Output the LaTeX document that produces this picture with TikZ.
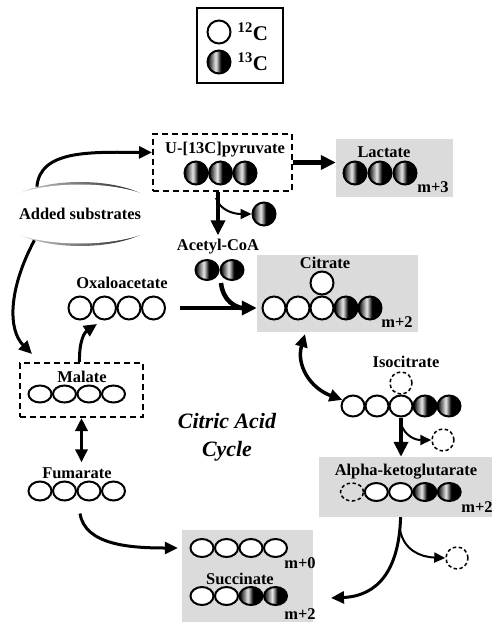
\documentclass[tikz,border=0pt]{standalone}
\usepackage{fontspec}
\setmainfont{Liberation Serif}
\usetikzlibrary{arrows.meta,positioning,shapes.geometric}
\pgfdeclarehorizontalshading{carbonshade}{100bp}{color(0bp)=(black); color(25bp)=(black); color(30bp)=(black!75); color(43bp)=(black!8); color(50bp)=(black!65); color(54bp)=(black); color(100bp)=(black)}
\tikzset{
	carbon/.style={circle,draw,line width=2bp,minimum size=23bp,inner sep=0pt},
	wc/.style={carbon,fill=white},
	bc/.style={carbon,shade,shading=carbonshade},
	dc/.style={carbon,line width=1.5bp,dash pattern=on 3.5bp off 2.5bp,minimum size=22bp},
	oval/.style={ellipse,minimum width=23bp,minimum height=17bp},
	lbl/.style={font=\fontsize{16.5}{18}\selectfont\bfseries,inner sep=0pt},
	keylbl/.style={font=\fontsize{21}{24}\selectfont\bfseries,inner sep=0pt},
	graybox/.style={fill=black!14,inner sep=0pt},
	dashbox/.style={draw,line width=2bp,dash pattern=on 6bp off 4bp,inner sep=0pt},
	keybox/.style={draw,line width=2bp,inner sep=0pt},
	bigarrow/.style={line width=4.5bp,-{Triangle[length=15bp,width=14bp]}},
	curvearrow/.style={line width=3bp,-{Triangle[length=13bp,width=12bp]}},
	bothways/.style={line width=3.5bp,{Triangle[length=13bp,width=12bp]}-{Triangle[length=13bp,width=12bp]}},
	thinarrow/.style={line width=2bp,-{Triangle[length=11bp,width=10bp]}}
}
\begin{document}
\begin{tikzpicture}[x=1bp,y=-1bp]
	\useasboundingbox[fill=white](0,0)rectangle(496,623);
	% legend
	\node[keybox,minimum width=86bp,minimum height=75bp](keybox)at(240,45.5){};
	\node[wc](key12)at(219,32){};
	\node[bc](key13)at(219,62){};
	\node[keylbl,right=6bp of key12](key12lbl){\textsuperscript{12}C};
	\node[keylbl,right=6bp of key13](key13lbl){\textsuperscript{13}C};
	% boxes
	\node[dashbox,minimum width=139bp,minimum height=57bp](pyrbox)at(222.5,162.5){};
	\node[graybox,minimum width=117bp,minimum height=58bp](lacbox)at(394.5,168){};
	\node[graybox,minimum width=161bp,minimum height=77bp](citbox)at(337.5,293.5){};
	\node[dashbox,minimum width=123bp,minimum height=54bp](malbox)at(81.5,390){};
	\node[graybox,minimum width=173bp,minimum height=60bp](akgbox)at(405.5,487){};
	\node[graybox,minimum width=131bp,minimum height=92bp](sucbox)at(247.5,576){};
	% added substrates
	\node[ellipse,minimum width=159bp,minimum height=64bp,left color=black!6,right color=black](added)at(80,214){};
	\node[ellipse,fill=white,minimum width=154bp,minimum height=59bp,lbl](addedlbl)at(added){Added substrates};
	% labels
	\node[lbl](pyrlbl)at(225,150){U-[13C]pyruvate};
	\node[lbl](laclbl)at(384,152){Lactate};
	\node[lbl](lacm)at(433,187){m+3};
	\node[lbl](acoalbl)at(218,247){Acetyl-CoA};
	\node[lbl](oaalbl)at(122,283){Oxaloacetate};
	\node[lbl](citlbl)at(325,263){Citrate};
	\node[lbl](citm)at(397,322){m+2};
	\node[lbl](isolbl)at(406,362){Isocitrate};
	\node[lbl](mallbl)at(82,377){Malate};
	\node[lbl](fumlbl)at(77,473){Fumarate};
	\node[lbl](akglbl)at(406,472){Alpha-ketoglutarate};
	\node[lbl](akgm)at(477,507){m+2};
	\node[lbl](sucm0)at(300,563){m+0};
	\node[lbl](suclbl)at(240,579){Succinate};
	\node[lbl](sucm2)at(300,614){m+2};
	\node[font=\fontsize{22}{28}\selectfont\bfseries\itshape,align=center](cycle)at(227,437){Citric Acid\\Cycle};
	% carbon chains
	\foreach \i in {1,...,3} {
		\node[bc](pyr\i)at({196+24.5*(\i-1)},173){};
		\node[bc](lac\i)at({355+25*(\i-1)},173){};
	}
	\foreach \i in {1,2} {
		\node[bc,oval,minimum height=20bp](acoa\i)at({207+25*(\i-1)},270){};
	}
	\node[bc](co2a)at(264,214){};
	\foreach \i in {1,...,4} {
		\node[wc](oaa\i)at({80+24.5*(\i-1)},308){};
		\node[wc,oval](mal\i)at({40+24.5*(\i-1)},394){};
		\node[wc,oval,minimum height=19bp](fum\i)at({40+24.5*(\i-1)},491){};
		\node[wc,oval,minimum height=18bp](suca\i)at({202+24.5*(\i-1)},548){};
	}
	\foreach \i/\s in {1/wc,2/wc,3/bc,4/bc} {
		\node[\s,oval,minimum height=18bp](sucb\i)at({202+24.5*(\i-1)},596){};
	}
	\node[wc](cittop)at(322,283){};
	\foreach \i/\s in {1/wc,2/wc,3/wc,4/bc,5/bc} {
		\node[\s](cit\i)at({274+24*(\i-1)},308){};
		\node[\s,oval,minimum height=21bp](iso\i)at({353+24*(\i-1)},406){};
	}
	\node[dc](isotop)at(401,383){};
	\node[dc](co2b)at(443,440){};
	\foreach \i/\s in {1/dc,2/wc,3/wc,4/bc,5/bc} {
		\node[\s,oval,minimum height=18bp](akg\i)at({352+24.3*(\i-1)},492){};
	}
	\node[dc](co2c)at(457,558){};
	% free ends
	\coordinate(pyrsplit)at(216,198);
	\coordinate(acoaout)at(221,283);
	\coordinate(merge)at(250,309);
	\coordinate(oaain)at(97,324);
	\coordinate(citout)at(305,334);
	\coordinate(isosplit)at(401,424);
	\coordinate(akgsplit)at(400,530);
	\coordinate(sucin)at(331,598);
	% connectors
	\draw[bigarrow](pyrbox.east)--(lacbox.west|-pyrbox.east);
	\draw[bigarrow](pyrbox.south-|acoalbl)--([yshift=4bp]acoalbl.north);
	\draw[thinarrow](pyrsplit)..controls(220,210)and(233,214)..(co2a.west);
	\draw[bigarrow,shorten <=14bp](oaa4.east)--(citbox.west|-oaa4);
	\draw[line width=4.5bp](acoaout)..controls(223,300)and(234,309)..(merge);
	\draw[curvearrow]([xshift=-1bp]added.147)..controls(40,150)and(90,152)..([yshift=10bp]pyrbox.west);
	\draw[curvearrow](added.210)..controls(8,290)and(8,330)..([xshift=13bp,yshift=8bp]malbox.north west);
	\draw[curvearrow]([xshift=-2bp]malbox.north)..controls(79,340)and(85,332)..(oaain);
	\draw[bothways,shorten >=5bp](malbox.south)--(malbox.south|-fumlbl.north);
	\draw[curvearrow]([xshift=-9bp,yshift=-12bp]fum3.south)..controls(85,545)and(130,548)..([xshift=-4bp]sucbox.west|-suca1);
	\draw[bothways](citout)..controls(296,365)and(310,388)..(iso1.150);
	\draw[bigarrow](iso3.south)--(akgbox.north-|iso3);
	\draw[thinarrow](isosplit)..controls(405,436)and(415,440)..(co2b.west);
	\draw[curvearrow](akgbox.south-|akg3)..controls(399,570)and(378,596)..(sucin);
	\draw[thinarrow](akgsplit)..controls(404,550)and(420,557)..(co2c.west);
\end{tikzpicture}
\end{document}
